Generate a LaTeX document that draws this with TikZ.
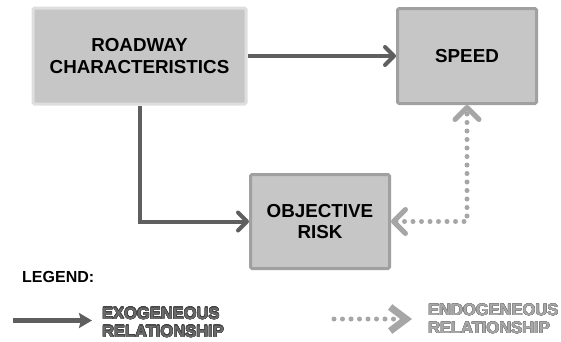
\documentclass[tikz,border=0pt]{standalone}
\usepackage{fontspec}
\setmainfont{Liberation Sans}
\usepackage[copies]{contour}
\usetikzlibrary{arrows.meta}
\definecolor{boxfill}{HTML}{C6C6C6}
\definecolor{lightborder}{HTML}{DEDEDE}
\definecolor{midborder}{HTML}{A0A0A0}
\definecolor{darkarrow}{HTML}{5F5F5F}
\definecolor{lightarrow}{HTML}{A6A6A6}
\definecolor{exofill}{HTML}{6A6A6A}
\definecolor{exoline}{HTML}{404040}
\definecolor{endofill}{HTML}{A8A8A8}
\definecolor{endoline}{HTML}{7C7C7C}
\contourlength{0.35pt}
\newcommand{\myexoword}[1]{\contour{exoline}{\textcolor{exofill}{#1}}}
\newcommand{\myendoword}[1]{\contour{endoline}{\textcolor{endofill}{#1}}}
\tikzset{
  x=1pt, y=-1pt,
  exotip/.tip={Straight Barb[length=9pt,width=18pt,line cap=round,line join=round]},
  endotip/.tip={Straight Barb[length=12pt,width=24pt,line cap=round,line join=round]},
  legexotip/.tip={Stealth[length=13pt,width=15pt,inset=2pt]},
  legendotip/.tip={Straight Barb[length=16pt,width=24pt,line width=7pt,line join=miter]},
  box/.style={draw=midborder, fill=boxfill, line width=3pt, rounded corners=1.5pt,
    align=center, inner sep=0pt, font=\fontsize{18.8}{21.5}\selectfont\bfseries},
  exo/.style={draw=darkarrow, line width=4pt, -{exotip}},
  endo/.style={draw=lightarrow, line width=5pt, line cap=round, dash pattern=on 0pt off 8.5pt},
  legtext/.style={align=left, anchor=west, inner sep=0pt, font=\fontsize{16.5}{18}\selectfont\bfseries},
}
\begin{document}
\begin{tikzpicture}
\useasboundingbox (0,0) rectangle (561,341);
\node[box, draw=lightborder, minimum width=213pt, minimum height=96pt] (road) at (139.5,56) {ROADWAY\\CHARACTERISTICS};
\node[box, minimum width=139pt, minimum height=95pt] (speed) at (467,56) {SPEED};
\node[box, minimum width=139pt, minimum height=94pt] (obj) at (320,221.5) {OBJECTIVE\\RISK};
\draw[exo] (road.east) -- (speed.west);
\draw[exo] (road.south) |- (obj.west);
\draw[endo, {endotip}-{endotip}] (obj.east) -| (speed.south);
% legend
\node[anchor=base west, inner sep=0pt, font=\fontsize{16}{18}\selectfont\bfseries] (leg) at (22,282) {LEGEND:};
\coordinate (exoA) at (13,320.5);
\coordinate (exoB) at (92,320.5);
\draw[draw=darkarrow, line width=4.5pt, -{legexotip}] (exoA) -- (exoB);
\node[legtext] (exotext) at (102,322.5) {\myexoword{EXOGENEOUS}\\\myexoword{RELATIONSHIP}};
\coordinate (endoA) at (334,319);
\coordinate (endoB) at (412,319);
\draw[endo, -{legendotip}] (endoA) -- (endoB);
\node[legtext] (endotext) at (428,319) {\myendoword{ENDOGENEOUS}\\\myendoword{RELATIONSHIP}};
\end{tikzpicture}
\end{document}
